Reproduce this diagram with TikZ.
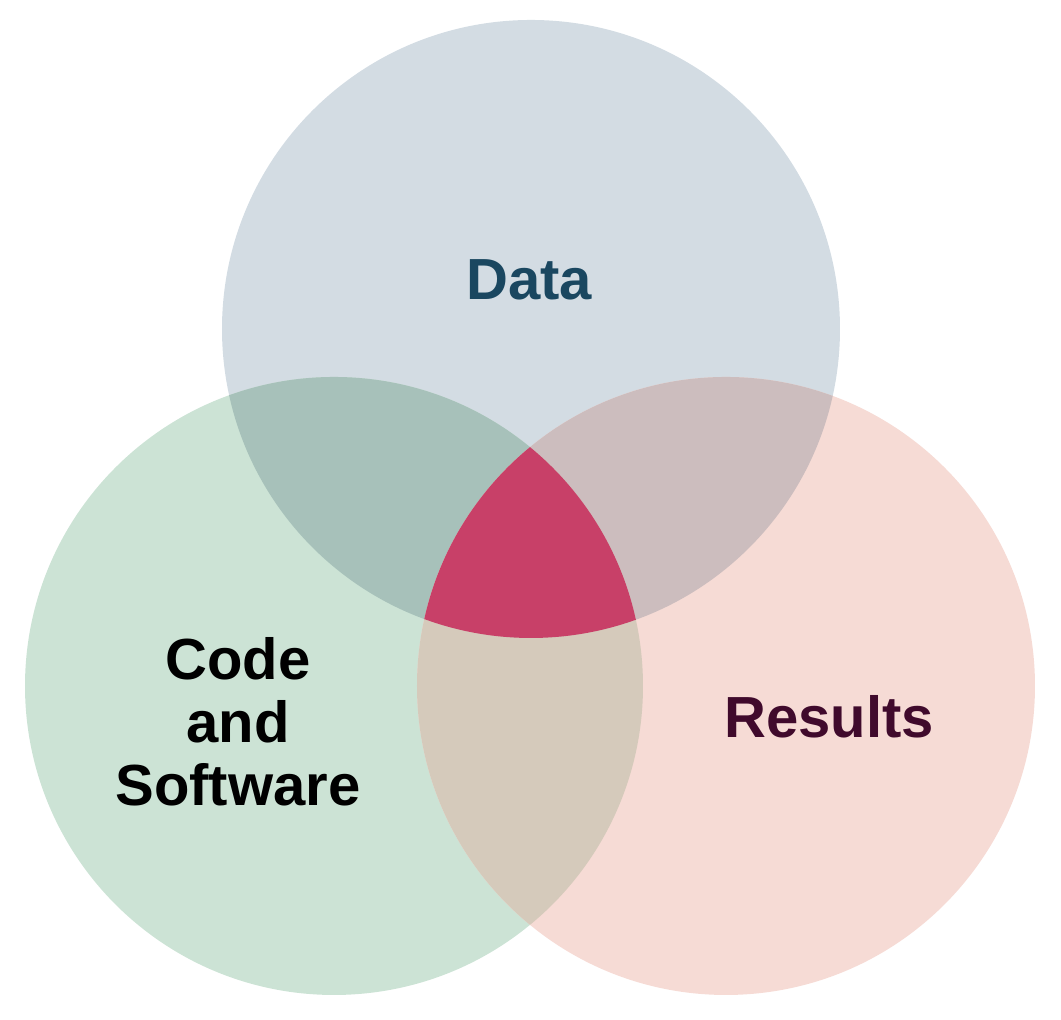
\documentclass[tikz,border=0pt]{standalone}
\usepackage{fontspec}
\setmainfont{Liberation Sans}
\usepackage{tikz}
\definecolor{datafill}{HTML}{D3DCE3}
\definecolor{codefill}{HTML}{CCE3D5}
\definecolor{resfill}{HTML}{F6DBD5}
\definecolor{dcfill}{HTML}{A7C1BA}
\definecolor{drfill}{HTML}{CCBDBE}
\definecolor{crfill}{HTML}{D5CABB}
\definecolor{allfill}{HTML}{C84068}
\definecolor{datatext}{HTML}{1A4760}
\definecolor{restext}{HTML}{400A2C}
\tikzset{venntext/.style={font=\fontsize{16.5}{17.9}\selectfont\bfseries, inner sep=0pt}}

\begin{document}
\begin{tikzpicture}
\useasboundingbox (0,0) rectangle (10.61,10.20);
\coordinate (cdata) at (5.31,6.91);
\coordinate (ccode) at (3.34,3.34);
\coordinate (cres) at (7.26,3.34);
\def\rad{3.09}
% circles
\fill[datafill] (cdata) circle (\rad);
\fill[codefill] (ccode) circle (\rad);
\fill[resfill] (cres) circle (\rad);
% pairwise overlaps
\begin{scope}
\clip (cdata) circle (\rad);
\fill[dcfill] (ccode) circle (\rad);
\fill[drfill] (cres) circle (\rad);
\end{scope}
\begin{scope}
\clip (ccode) circle (\rad);
\fill[crfill] (cres) circle (\rad);
\end{scope}
% centre
\begin{scope}
\clip (cdata) circle (\rad);
\clip (ccode) circle (\rad);
\fill[allfill] (cres) circle (\rad);
\end{scope}
% labels
\node[venntext, text=datatext, anchor=base] (data) at (5.29,7.20) {Data};
\node[venntext, text=black, align=center] (code) at (2.38,2.98) {Code\\and\\Software};
\node[venntext, text=restext, anchor=base] (res) at (8.29,2.82) {Results};
\end{tikzpicture}
\end{document}
